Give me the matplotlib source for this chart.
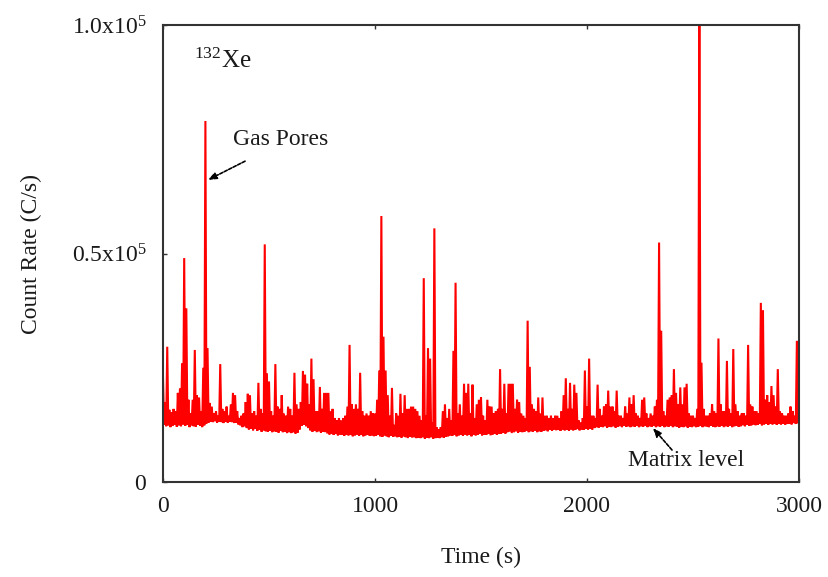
import numpy as np
import matplotlib
matplotlib.use("Agg")
import matplotlib.pyplot as plt

plt.rcParams['font.family'] = ['Liberation Serif', 'DejaVu Serif']
plt.rcParams['mathtext.fontset'] = 'custom'
plt.rcParams['mathtext.rm'] = 'Liberation Serif'
plt.rcParams['mathtext.it'] = 'Liberation Serif:italic'
plt.rcParams['mathtext.bf'] = 'Liberation Serif:bold'

# Sample times (s), one reading every 10 s
time_s = np.arange(0, 3001, 10)

# Peak count rate within each 10 s window (x1000 C/s)
peak_kcps = [
    22.8, 17.5, 29.6, 15.8, 15.2, 16.0, 15.5, 19.5, 20.5, 26.0,
    49.0, 38.0, 18.0, 15.0, 18.0, 28.9, 19.0, 18.5, 15.5, 25.0,
    79.0, 29.3, 17.3, 16.5, 15.0, 15.5, 14.5, 25.8, 16.0, 15.5,
    16.5, 14.5, 17.0, 19.5, 19.0, 15.5, 14.0, 14.5, 15.0, 17.5,
    19.3, 19.0, 15.0, 15.5, 14.5, 21.7, 16.0, 15.0, 52.0, 23.8,
    22.0, 15.5, 14.5, 25.8, 16.5, 16.0, 19.0, 15.0, 14.5, 16.5,
    16.0, 14.5, 23.9, 17.0, 16.0, 17.5, 24.3, 23.5, 21.5, 17.0,
    27.0, 22.5, 15.5, 15.5, 20.8, 16.0, 19.5, 19.5, 19.5, 15.5,
    16.0, 14.0, 13.5, 14.0, 13.5, 14.0, 14.5, 16.5, 30.0, 17.0,
    16.0, 17.0, 16.0, 23.9, 15.5, 14.5, 15.0, 14.5, 15.5, 15.0,
    15.0, 18.0, 24.4, 58.2, 31.8, 24.4, 19.0, 14.5, 20.6, 12.5,
    15.0, 14.5, 19.3, 15.0, 19.0, 16.0, 16.0, 16.5, 16.5, 16.0,
    15.5, 14.5, 13.5, 44.6, 14.5, 29.3, 27.0, 13.0, 55.5, 12.0,
    11.5, 12.0, 15.5, 17.0, 14.0, 16.0, 13.5, 28.7, 43.6, 15.0,
    17.0, 14.5, 21.5, 19.5, 21.5, 15.0, 21.3, 14.0, 17.0, 18.0,
    18.5, 14.5, 13.5, 18.0, 16.5, 16.5, 15.0, 15.5, 16.0, 24.7,
    16.0, 21.5, 15.0, 21.5, 21.5, 21.5, 16.0, 18.0, 17.5, 15.0,
    14.5, 14.0, 35.3, 25.2, 17.0, 16.0, 15.5, 18.5, 15.0, 18.5,
    14.5, 14.5, 14.0, 14.5, 14.0, 14.5, 14.5, 14.0, 15.5, 19.0,
    22.7, 16.0, 21.7, 16.0, 21.3, 19.5, 13.5, 13.0, 14.0, 24.4,
    16.5, 27.0, 14.5, 14.5, 14.0, 21.3, 16.0, 14.5, 16.5, 17.0,
    20.0, 16.5, 16.5, 15.5, 20.0, 14.5, 14.5, 14.0, 16.5, 15.0,
    18.5, 17.0, 19.0, 15.0, 14.5, 14.0, 18.0, 18.5, 15.0, 14.0,
    15.0, 14.5, 16.5, 18.0, 52.4, 33.1, 15.5, 14.5, 18.0, 18.5,
    19.0, 24.7, 19.5, 17.0, 20.7, 17.0, 20.7, 21.5, 15.0, 14.5,
    14.5, 14.0, 16.0, 112.0, 26.1, 16.0, 14.5, 14.5, 15.0, 17.0,
    15.5, 15.0, 31.4, 17.0, 15.5, 15.5, 26.5, 16.0, 15.0, 29.1,
    17.0, 15.5, 14.5, 15.0, 15.0, 14.5, 30.0, 17.0, 16.5, 15.5,
    15.5, 15.0, 39.2, 37.6, 18.0, 19.0, 17.5, 21.0, 19.0, 16.5,
    24.7, 15.5, 15.0, 14.5, 14.5, 15.0, 16.5, 15.5, 14.5, 30.9,
    30.9,
]

# Lowest count rate within each 10 s window (x1000 C/s) - the matrix level
floor_kcps = [
    12.5, 12.2, 12.4, 12.0, 12.3, 12.5, 12.1, 12.4, 12.2, 12.6,
    12.3, 12.5, 12.0, 12.4, 12.2, 12.1, 12.5, 12.3, 12.0, 12.4,
    12.8, 13.0, 13.2, 13.1, 13.3, 13.0, 13.2, 13.1, 12.9, 13.2,
    13.0, 13.2, 13.1, 12.9, 13.0, 12.6, 12.4, 12.0, 12.2, 11.8,
    11.5, 11.7, 11.3, 11.6, 11.2, 11.4, 11.0, 11.3, 11.1, 11.0,
    11.2, 10.9, 11.1, 11.0, 10.8, 11.2, 10.9, 11.0, 10.7, 10.9,
    10.7, 10.9, 10.6, 10.8, 11.5, 12.3, 12.5, 12.2, 11.8, 11.3,
    11.0, 11.2, 10.9, 11.1, 10.8, 11.0, 10.9, 10.6, 10.4, 10.5,
    10.3, 10.5, 10.2, 10.4, 10.3, 10.1, 10.4, 10.2, 10.3, 10.0,
    10.2, 10.4, 10.1, 10.3, 10.0, 10.2, 10.3, 10.1, 10.2, 10.0,
    10.1, 10.3, 10.0, 9.9, 10.2, 10.0, 9.8, 10.1, 9.9, 10.0,
    9.8, 9.9, 9.7, 10.0, 9.8, 9.6, 9.9, 9.7, 9.8, 9.6,
    9.7, 9.6, 9.8, 9.5, 9.7, 9.6, 9.8, 9.5, 9.6, 9.7,
    9.6, 9.8, 9.7, 9.9, 10.0, 10.2, 10.1, 10.3, 10.0, 10.2,
    10.3, 10.1, 10.4, 10.2, 10.3, 10.0, 10.4, 10.2, 10.3, 10.5,
    10.2, 10.4, 10.3, 10.5, 10.2, 10.4, 10.6, 10.3, 10.5, 10.6,
    10.8, 10.6, 10.9, 11.0, 10.7, 10.9, 11.1, 10.8, 11.0, 10.9,
    11.0, 11.2, 10.9, 11.1, 11.0, 11.2, 10.9, 11.1, 11.0, 11.2,
    11.3, 11.1, 11.4, 11.2, 11.5, 11.3, 11.4, 11.2, 11.5, 11.3,
    11.4, 11.2, 11.5, 11.3, 11.4, 11.6, 11.3, 11.5, 11.4, 11.6,
    11.5, 11.7, 11.4, 11.8, 12.0, 11.9, 12.1, 12.0, 12.2, 11.9,
    12.1, 12.0, 12.2, 11.9, 12.1, 12.2, 12.0, 12.3, 12.1, 12.2,
    12.0, 12.2, 12.1, 12.3, 12.0, 12.2, 12.1, 12.3, 12.0, 12.2,
    12.1, 12.3, 12.0, 12.2, 12.1, 12.3, 12.0, 12.2, 12.1, 12.3,
    12.0, 12.2, 12.1, 11.9, 12.1, 12.0, 12.2, 11.9, 12.1, 12.0,
    12.2, 12.0, 12.1, 12.3, 12.0, 12.2, 12.1, 12.0, 12.3, 12.1,
    12.0, 12.2, 12.1, 12.3, 12.0, 12.2, 12.1, 12.3, 12.0, 12.2,
    12.3, 12.1, 12.2, 12.4, 12.2, 12.5, 12.3, 12.4, 12.6, 12.4,
    12.5, 12.7, 12.4, 12.6, 12.8, 12.5, 12.7, 12.6, 12.8, 12.5,
    12.7, 12.6, 12.8, 12.5, 12.7, 12.8, 12.6, 12.9, 12.7, 12.8,
    12.8,
]

x_ticks = [0, 1000, 2000, 3000]
x_tick_labels = ['0', '1000', '2000', '3000']
y_ticks = [0, 0.5e5, 1.0e5]
y_tick_labels = ['0', r'0.5x10$^{5}$', r'1.0x10$^{5}$']

# Interleave peak and floor readings so the trace swings between them
peak = np.asarray(peak_kcps) * 1000.0
floor = np.asarray(floor_kcps) * 1000.0
trace_t = np.column_stack([time_s, time_s + 5]).ravel()
trace_y = np.column_stack([peak, floor]).ravel()

W, H = 829, 577
fig = plt.figure(figsize=(W / 100, H / 100), dpi=100)
ax = fig.add_axes([163 / W, 1 - 482 / H, (799 - 163) / W, (482 - 25) / H])

ax.plot(trace_t, trace_y, color='#ff0000', lw=1.5, solid_joinstyle='miter')

ax.set_xlim(0, 3000)
ax.set_ylim(0, 1.0e5)
ax.set_xticks(x_ticks)
ax.set_xticklabels(x_tick_labels)
ax.set_yticks(y_ticks)
ax.set_yticklabels(y_tick_labels)

text_color = '#1a1a1a'
for s in ax.spines.values():
    s.set_color('#333333')
    s.set_linewidth(1.5)
ax.tick_params(axis='both', direction='in', length=3, width=1, colors='#333333',
               labelcolor=text_color, labelsize=17, top=True, right=False)
ax.tick_params(axis='x', pad=10)
ax.tick_params(axis='y', pad=12)

ax.set_xlabel('Time (s)', fontsize=17, color=text_color)
ax.xaxis.set_label_coords(0.5, -0.142)
ax.set_ylabel('Count Rate (C/s)', fontsize=17, color=text_color)
ax.yaxis.set_label_coords(-0.19, 0.5)

ax.text(146, 90.6e3, r'$^{132}$Xe', fontsize=18, color=text_color, va='baseline', ha='left')

arrow_style = dict(arrowstyle='-|>,head_length=0.5,head_width=0.2',
                   color='black', lw=1.2, linestyle=(0, (2, 1)),
                   shrinkA=0, shrinkB=0)

ax.text(330, 75e3, 'Gas Pores', fontsize=17, color=text_color, ha='left', va='center')
ax.annotate('', xy=(212, 66.1e3), xytext=(387, 70.2e3), arrowprops=arrow_style)

ax.text(2467, 4.6e3, 'Matrix level', fontsize=17, color=text_color, ha='center', va='center')
ax.annotate('', xy=(2311, 11.8e3), xytext=(2401, 7.0e3), arrowprops=arrow_style)

fig.savefig('out.png', dpi=100)
